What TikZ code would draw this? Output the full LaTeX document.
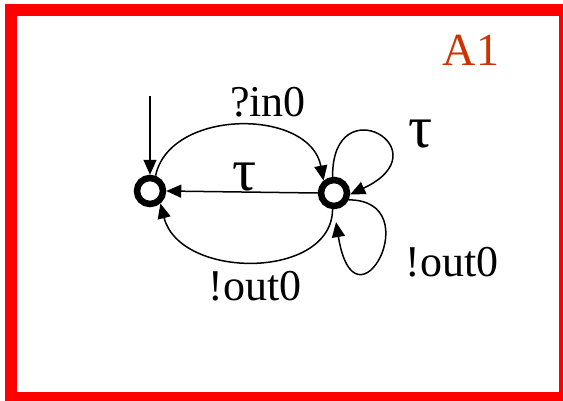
\documentclass[tikz,border=0pt]{standalone}
\usepackage{fontspec}
\setmainfont{Liberation Serif}
\usetikzlibrary{arrows.meta}
\definecolor{frame}{HTML}{FF0000}
\definecolor{titlec}{HTML}{CC3300}
\begin{document}
\begin{tikzpicture}[x=1pt,y=-1pt,
  state/.style={circle,draw,line width=6.5pt,minimum size=26pt,inner sep=0pt},
  edge/.style={line width=1.5pt,-{Triangle[length=15pt,width=13pt]}},
  lbl/.style={anchor=base,inner sep=0pt,font=\fontsize{44}{50}\selectfont},
  taulbl/.style={anchor=base,inner sep=0pt,font=\fontsize{60}{60}\selectfont}]
\useasboundingbox (0,0) rectangle (563,400);
\clip (0,0) rectangle (563,400);
\fill[white] (0,0) rectangle (563,400);
\draw[frame,line width=12pt] (11,10) rectangle (565,398);
\node[lbl,text=titlec,font=\fontsize{46}{50}\selectfont] (title) at (471,65) {A1};
\node[state] (L) at (150,191) {};
\node[state] (R) at (334,193) {};
\coordinate (init) at (150,96);
\draw[edge] (init) -- (L);
\draw[edge] (L.70) .. controls (170,108) and (310,108) .. (R.130);
\draw[edge] (R.west) -- (L.east);
\draw[edge] (R.-95) .. controls (332,280) and (180,280) .. (L.-50);
\draw[edge] (R.95) .. controls (332,85) and (445,150) .. (R.-5);
\draw[edge,shorten >=13pt] (R.-25) .. controls (430,200) and (355,340) .. (R.270);
\node[lbl] (in0) at (268,116) {?in0};
\node[taulbl] (tau1) at (245,190) {τ};
\node[taulbl] (tau2) at (421,147) {τ};
\node[lbl] (out0a) at (255,300) {!out0};
\node[lbl] (out0b) at (452,276) {!out0};
\end{tikzpicture}
\end{document}
